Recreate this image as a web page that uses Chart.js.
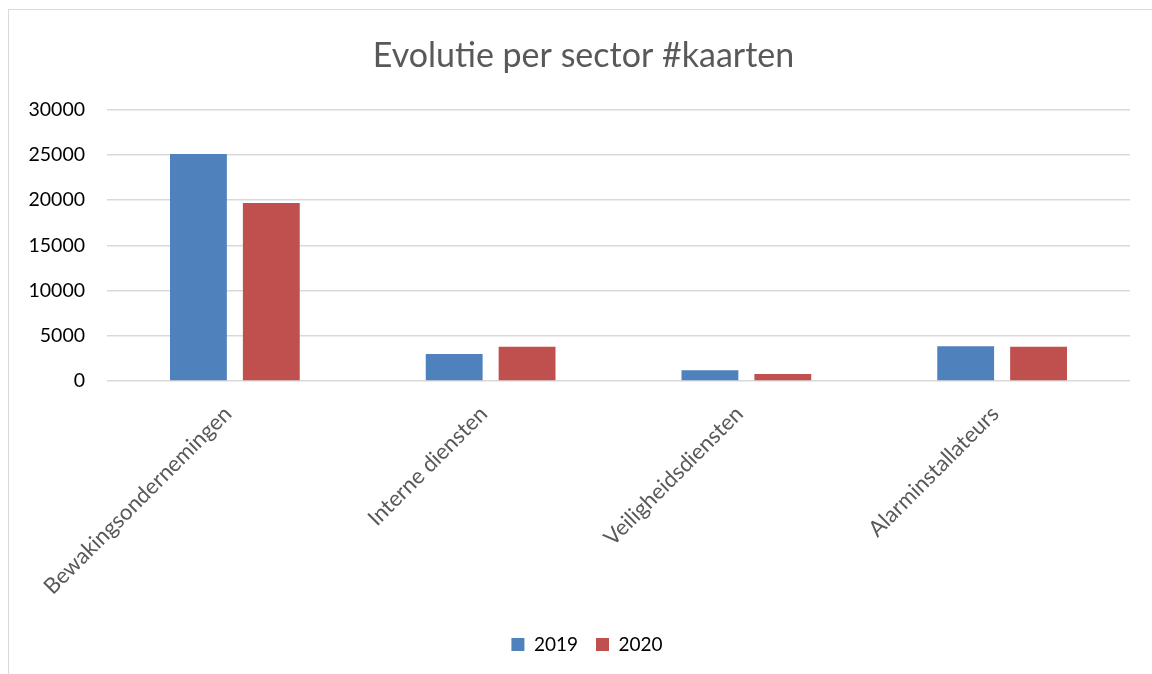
<!DOCTYPE html>
<html>
<head>
<meta charset="utf-8">
<script src="https://cdn.jsdelivr.net/npm/chart.js@4"></script>
<style>
  html, body { margin: 0; padding: 0; background: #fff; }
  #wrap { position: relative; width: 1152px; height: 674px; }
  #frame { position: absolute; left: 8px; top: 9px; width: 1150px; height: 670px;
           border-left: 1px solid #d9d9d9; border-top: 1px solid #d9d9d9; }
  canvas { position: absolute; left: 0; top: 0; }
</style>
</head>
<body>
<div id="wrap">
  <div id="frame"></div>
  <canvas id="sectorChart" width="1152" height="674"></canvas>
</div>
<script>
const categories = ["Bewakingsondernemingen", "Interne diensten", "Veiligheidsdiensten", "Alarminstallateurs"];
const values2019 = [25100, 3000, 1200, 3850];
const values2020 = [19700, 3780, 780, 3780];
const yTicks = [0, 5000, 10000, 15000, 20000, 25000, 30000];

const labelFont = "Lato, 'Open Sans', sans-serif";

// title and legend sit a bit right of the canvas centre in the original
const centreShift = {
  id: "centreShift",
  afterLayout(chart) {
    chart.legend.left += 24;
    if (chart.titleBlock) chart.titleBlock.left += 17;
  },
};

new Chart(document.getElementById("sectorChart").getContext("2d"), {
  type: "bar",
  data: {
    labels: categories,
    datasets: [
      {
        label: "2019",
        data: values2019,
        backgroundColor: "#4f81bd",
        borderWidth: 0,
        categoryPercentage: 0.57,
        barPercentage: 0.78,
      },
      {
        label: "2020",
        data: values2020,
        backgroundColor: "#c0504d",
        borderWidth: 0,
        categoryPercentage: 0.57,
        barPercentage: 0.78,
      },
    ],
  },
  plugins: [centreShift],
  options: {
    responsive: false,
    animation: false,
    layout: {
      padding: { left: 20, right: 22, top: 0, bottom: 10 },
    },
    plugins: {
      title: {
        display: true,
        text: "Evolutie per sector #kaarten",
        color: "#595959",
        font: { family: labelFont, size: 34, weight: "normal" },
        padding: { top: 36, bottom: 33 },
      },
      legend: {
        position: "bottom",
        labels: {
          color: "#000",
          boxWidth: 13,
          boxHeight: 13,
          padding: 18,
          font: { family: labelFont, size: 19 },
        },
      },
      tooltip: { enabled: false },
    },
    scales: {
      x: {
        grid: { display: false },
        border: { display: false },
        ticks: {
          color: "#595959",
          minRotation: 45,
          maxRotation: 45,
          padding: 12,
          labelOffset: -7,
          font: { family: labelFont, size: 22 },
        },
        afterFit: (scale) => {
          scale.height = 236;
        },
      },
      y: {
        min: 0,
        max: 30000,
        afterBuildTicks: (scale) => {
          scale.ticks = yTicks.map((v) => ({ value: v }));
        },
        grid: { color: "#d9d9d9", lineWidth: 1.5, drawTicks: false },
        border: { display: false },
        ticks: {
          color: "#000",
          padding: 22,
          font: { family: labelFont, size: 19.5 },
          callback: (value) => String(value),
        },
        afterFit: (scale) => {
          scale.width = 87;
        },
      },
    },
  },
});
</script>
</body>
</html>
